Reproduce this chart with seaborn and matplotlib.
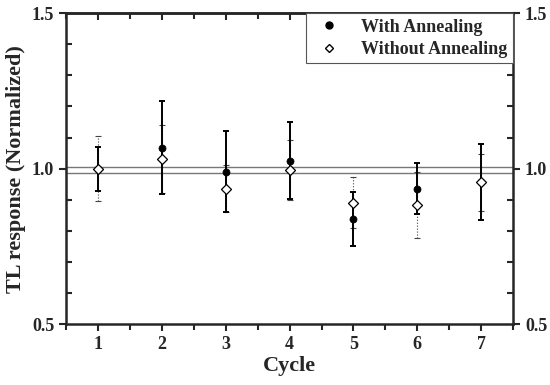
import pandas as pd
import seaborn as sns
import matplotlib.pyplot as plt
from matplotlib.ticker import MultipleLocator
from matplotlib.lines import Line2D

cycles = [1, 2, 3, 4, 5, 6, 7]
with_ann = [1.000, 1.067, 0.990, 1.025, 0.838, 0.935, 0.956]
with_err = [0.071, 0.150, 0.131, 0.124, 0.088, 0.082, 0.122]
without_ann = [1.000, 1.031, 0.935, 0.995, 0.891, 0.883, 0.956]
without_err = [0.104, 0.110, 0.076, 0.097, 0.082, 0.105, 0.092]
ref_lines = [1.006, 0.987]

df = pd.concat([
    pd.DataFrame({'cycle': cycles, 'tl': with_ann, 'err': with_err, 'cond': 'With Annealing'}),
    pd.DataFrame({'cycle': cycles, 'tl': without_ann, 'err': without_err, 'cond': 'Without Annealing'}),
])

sns.set_style("ticks")
plt.rcParams['font.family'] = ['Liberation Serif', 'DejaVu Serif']
plt.rcParams['font.weight'] = 'bold'

fig = plt.figure(figsize=(5.5, 3.85), dpi=100)
ax = fig.add_axes([0.12, 0.158, 0.813, 0.808])

for y in ref_lines:
    ax.axhline(y, color='#777777', lw=1.0, zorder=1)

w = df[df.cond == 'With Annealing']
wo = df[df.cond == 'Without Annealing']

eb = ax.errorbar(wo.cycle, wo.tl, yerr=wo.err, fmt='none', ecolor='#444444',
                 elinewidth=0.8, capsize=2.2, capthick=0.8, zorder=2)
eb[2][0].set_linestyle(':')
ax.errorbar(w.cycle, w.tl, yerr=w.err, fmt='none', ecolor='black',
            elinewidth=1.4, capsize=2.4, capthick=1.4, zorder=3)

sns.scatterplot(data=w, x='cycle', y='tl', marker='o', s=26, color='black',
                edgecolor='black', linewidth=0.5, ax=ax, zorder=4, legend=False)
sns.scatterplot(data=wo, x='cycle', y='tl', marker='D', s=26, facecolor='white',
                edgecolor='black', linewidth=0.9, ax=ax, zorder=5, legend=False)

ax.set_xlim(0.5, 7.5)
ax.set_ylim(0.5, 1.5)
ax.xaxis.set_major_locator(MultipleLocator(1))
ax.xaxis.set_minor_locator(MultipleLocator(0.5))
ax.yaxis.set_major_locator(MultipleLocator(0.5))
ax.yaxis.set_minor_locator(MultipleLocator(0.1))
ax.yaxis.set_major_formatter(plt.FormatStrFormatter('%.1f'))

ax.tick_params(axis='y', which='both', left=True, right=True, labelright=True,
               labelsize=13, width=1.5)
ax.tick_params(axis='y', which='major', direction='out', length=5)
ax.tick_params(axis='y', which='minor', direction='in', length=4)
ax.tick_params(axis='x', which='both', direction='out', labelsize=13, width=1.5)
ax.tick_params(axis='x', which='major', length=5)
ax.tick_params(axis='x', which='minor', length=4)

top = ax.secondary_xaxis('top')
top.xaxis.set_major_locator(MultipleLocator(1))
top.xaxis.set_minor_locator(MultipleLocator(0.5))
top.tick_params(which='both', direction='in', labeltop=False, width=1.5)
top.tick_params(which='major', length=5)
top.tick_params(which='minor', length=4)

for s in ax.spines.values():
    s.set_linewidth(1.8)
top.spines['top'].set_linewidth(1.8)

ax.set_xlabel('Cycle', fontsize=16, fontweight='bold', labelpad=2)
ax.set_ylabel('TL response (Normalized)', fontsize=16, fontweight='bold', labelpad=4)

handles = [
    Line2D([], [], marker='o', ls='none', color='black', markersize=5),
    Line2D([], [], marker='D', ls='none', markerfacecolor='white',
           markeredgecolor='black', markersize=4.5),
]
leg = ax.legend(handles, ['With Annealing', 'Without Annealing'], loc='upper right',
                prop={'size': 13, 'weight': 'bold'}, fancybox=False, framealpha=1,
                borderaxespad=0.0, handletextpad=0.8, borderpad=0.3, labelspacing=0.3)
leg.get_frame().set_edgecolor('#555555')
leg.get_frame().set_linewidth(0.8)

fig.savefig('out.png', dpi=100)
